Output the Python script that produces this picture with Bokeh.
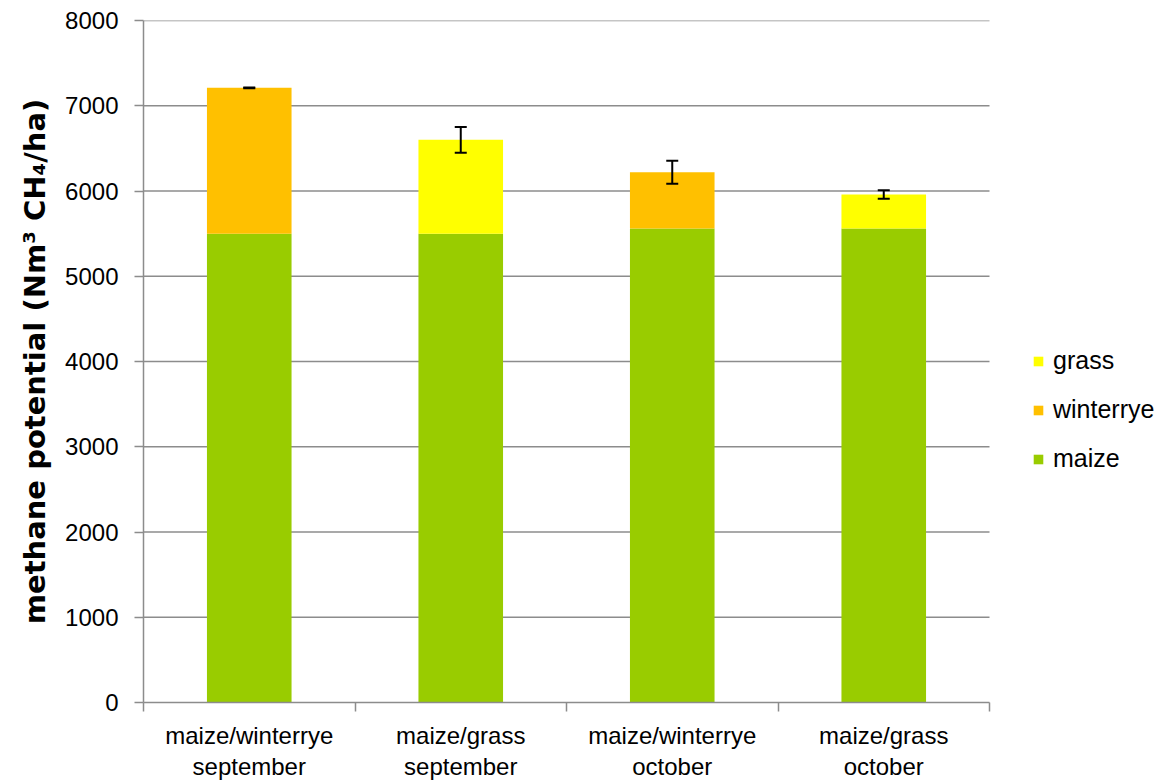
from bokeh.plotting import figure
from bokeh.models import (ColumnDataSource, FixedTicker, Legend, LegendItem,
                          Whisker, Range1d)
from bokeh.embed import file_html
from bokeh.resources import INLINE

categories = ["maize/winterrye\nseptember", "maize/grass\nseptember",
              "maize/winterrye\noctober", "maize/grass\noctober"]
maize = [5500, 5500, 5560, 5560]
winterrye = [1710, 0, 660, 0]
grass = [0, 1100, 0, 400]
err = [5, 150, 135, 50]
y_ticks = [0, 1000, 2000, 3000, 4000, 5000, 6000, 7000, 8000]

C_MAIZE = "#99CC00"
C_RYE = "#FFC000"
C_GRASS = "#FFFF00"
GRID = "#8c8c8c"
FONT = "Liberation Sans"

# layout (pixels)
W, H = 1160, 782
LEFT, TOP, BOTTOM = 143, 20, 80
PLOT_W = 846  # width of the category area
n = len(categories)
x_end = n * (W - LEFT) / PLOT_W

xs = [i + 0.5 for i in range(n)]
totals = [m + w + g for m, w, g in zip(maize, winterrye, grass)]
src = ColumnDataSource(dict(x=xs, maize=maize, winterrye=winterrye, grass=grass,
                            upper=[t + e for t, e in zip(totals, err)],
                            lower=[t - e for t, e in zip(totals, err)]))

p = figure(width=W, height=H, output_backend="svg", toolbar_location=None,
           x_range=Range1d(0, x_end), y_range=Range1d(0, y_ticks[-1]),
           min_border_left=LEFT, min_border_top=TOP, min_border_bottom=BOTTOM,
           min_border_right=0)
p.outline_line_color = None
p.background_fill_color = "white"
p.xgrid.grid_line_color = None
p.ygrid.grid_line_color = None

# horizontal gridlines spanning only the category area
gl = p.segment(x0=[0] * (len(y_ticks) - 1), x1=[n] * (len(y_ticks) - 1),
               y0=y_ticks[1:], y1=y_ticks[1:], line_color=GRID, line_width=1.5)
gl.level = "underlay"

r = p.vbar_stack(["maize", "winterrye", "grass"], x="x", width=0.4, source=src,
                 color=[C_MAIZE, C_RYE, C_GRASS], line_color=None)

w = Whisker(base="x", upper="upper", lower="lower", source=src,
            line_color="black", line_width=2, level="overlay")
for h in (w.upper_head, w.lower_head):
    h.size = 12
    h.line_width = 2
    h.line_color = "black"
p.add_layout(w)

# y axis
p.yaxis.ticker = FixedTicker(ticks=y_ticks)
p.yaxis.axis_label = "methane potential (Nm³ CH₄/ha)"
p.yaxis.axis_label_text_font = "DejaVu Sans"
p.yaxis.axis_label_text_font_style = "bold"
p.yaxis.axis_label_text_font_size = "29px"
p.yaxis.axis_label_text_color = "black"
p.yaxis.axis_label_standoff = 10
p.yaxis.major_label_text_font = FONT
p.yaxis.major_label_text_font_size = "24px"
p.yaxis.major_label_text_color = "black"
p.yaxis.axis_line_color = GRID
p.yaxis.axis_line_width = 1.5
p.yaxis.major_tick_line_color = GRID
p.yaxis.major_tick_line_width = 1.5
p.yaxis.major_tick_out = 9
p.yaxis.major_tick_in = 0
p.yaxis.minor_tick_line_color = None
p.yaxis.major_label_standoff = 16

# x axis
p.xaxis.bounds = (0, n)
p.xaxis.ticker = FixedTicker(ticks=xs, minor_ticks=list(range(n + 1)))
p.xaxis.major_label_overrides = {x: c for x, c in zip(xs, categories)}
p.xaxis.major_label_text_font = FONT
p.xaxis.major_label_text_font_size = "24px"
p.xaxis.major_label_text_line_height = 1.15
p.xaxis.major_label_text_color = "black"
p.xaxis.major_label_standoff = 10
p.xaxis.major_tick_line_color = None
p.xaxis.major_tick_out = 0
p.xaxis.major_tick_in = 0
p.xaxis.minor_tick_line_color = GRID
p.xaxis.minor_tick_line_width = 1.5
p.xaxis.minor_tick_out = 9
p.xaxis.minor_tick_in = 0
p.xaxis.axis_line_color = GRID
p.xaxis.axis_line_width = 1.5

legend = Legend(items=[LegendItem(label="grass", renderers=[r[2]]),
                       LegendItem(label="winterrye", renderers=[r[1]]),
                       LegendItem(label="maize", renderers=[r[0]])],
                location=(889, 229), orientation="vertical")
legend.label_text_font = FONT
legend.label_text_font_size = "25px"
legend.label_text_color = "black"
legend.glyph_width = 12
legend.glyph_height = 12
legend.label_height = 25
legend.spacing = 20
legend.label_standoff = 9
legend.border_line_color = None
legend.background_fill_alpha = 0
legend.padding = 0
legend.margin = 0
p.add_layout(legend, "center")

open("out.html", "w").write(file_html(p, INLINE))
